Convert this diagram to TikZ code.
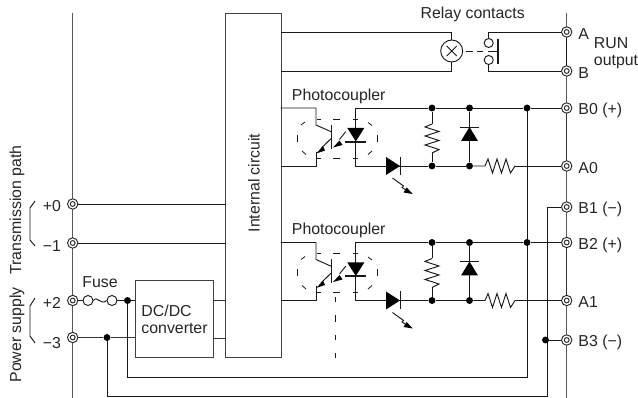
\documentclass[tikz,border=0pt]{standalone}
\usepackage{fontspec}
\setmainfont{Liberation Sans}
\newcommand{\term}[3]{\node[termo] (#1) at (#2,#3) {}; \node[termi] at (#1) {};}
\newcommand{\zigv}[3]{% x, y0, y1 vertical resistor
  \draw (#1,#2) -- (#1-7,#2+3) -- (#1+7,#2+7.5) -- (#1-7,#2+12) -- (#1+7,#2+16.5) -- (#1-7,#2+21) -- (#1+7,#2+25.5) -- (#1,#3);}
\newcommand{\coupler}[4]{% suffix, yshift, power terminal, input terminal
  \begin{scope}[shift={(0,#2)}]
    \coordinate (pa#1) at (280.5,108);
    \coordinate (pb#1) at (280.5,166);
    \coordinate (c#1) at (316,108);
    \coordinate (e#1) at (316,166);
    \coordinate (l#1) at (355.7,108);
    \coordinate (m#1) at (355.7,166);
    \node[jdot] (j1#1) at (432,108) {};
    \node[jdot] (j2#1) at (469.5,108) {};
    \node[jdot] (j3#1) at (432,166) {};
    \node[jdot] (j4#1) at (469.5,166) {};
    \node[jdot] (j5#1) at (527,108) {};
    \draw (pa#1) -- (c#1) -- (316,125) -- (331.7,132);
    \draw (331.7,138) -- (321,148.5);
    \draw (316,152) -- (e#1) -- (pb#1);
    \draw[line width=1.1pt] (331.7,125) -- (331.7,149);
    \fill (316.4,153.4) -- (323,146) -- (325,150.5) -- cycle;
    \draw (345.7,131.7) -- (339.5,139.5);
    \fill (333,147.5) -- (339.5,140.5) -- (342.5,145) -- cycle;
    \draw[dsh] (317,119) -- (321,119) (333,119) -- (340,119) (353,119) -- (358,119);
    \draw[dsh] (317,158) -- (321,158) (333,158) -- (340,158) (353,158) -- (358,158);
    \draw[dsh] (297,135) -- (297,142) (377,135) -- (377,142);
    \draw[dsh] (301,125) -- (305,122) (302,151) -- (306,154.5) (368,122.5) -- (372,125.5) (368,154.5) -- (372,151);
    \draw (l#1) -- (m#1) -- (j3#1) -- (j4#1);
    \fill (347.3,128) -- (364.3,128) -- (355.8,141.5) -- cycle;
    \draw[line width=1.5pt] (345,141.8) -- (366,141.8);
    \fill (386,157) -- (386,175) -- (400,166) -- cycle;
    \draw (400,157) -- (400,175);
    \draw (392.5,178) -- (403.5,186) -- (402,187.5) -- (406,190);
    \fill (412.7,194) -- (406.7,187.5) -- (403.5,192.5) -- cycle;
    \draw (l#1) -- (j1#1) -- (j2#1) -- (j5#1);
    \zigv{432}{124}{153}
    \draw (j1#1) -- (432,124) (432,153) -- (j3#1);
    \draw (j2#1) -- (j4#1);
    \fill (461,141) -- (478,141) -- (469.5,127) -- cycle;
    \draw (460,127) -- (479,127);
    \draw (j4#1) -- (485,166) -- (488,159) -- (492.5,173) -- (497,159) -- (501.5,173) -- (506,159) -- (510.5,173) -- (515,166);
    \draw (515,166) -- (#4);
    \draw (j5#1) -- (#3);
    \node[lbl,anchor=west] (pc#1) at (291.5,96) {Photocoupler};
  \end{scope}}
\tikzset{
  lbl/.style={inner sep=0pt,font=\fontsize{11.9}{13}\selectfont,text=black!85},
  termo/.style={circle,draw=black!85,fill=white,inner sep=0pt,minimum size=7.8pt,line width=0.7pt},
  termi/.style={circle,draw=black!85,fill=white,inner sep=0pt,minimum size=3.6pt,line width=0.7pt},
  jdot/.style={circle,fill=black,inner sep=0pt,minimum size=5.2pt},
  dsh/.style={line width=0.6pt},
  railstyle/.style={draw=black!65,line width=0.8pt}
}
\begin{document}
\begin{tikzpicture}[x=0.75pt,y=-0.75pt,line width=0.7pt,draw=black!90]
\useasboundingbox (0,0) rectangle (638,398);
\fill[white] (0,0) rectangle (638,398);
% rails
\coordinate (lt) at (72.7,13); \coordinate (lb) at (72.7,398);
\coordinate (rt) at (566.7,13); \coordinate (rb) at (566.7,398);
\draw[railstyle] (lt) -- (lb);
\draw[railstyle] (rt) -- (rb);
\draw[line width=1pt] (566.7,32) -- (566.7,71);
\draw[line width=0.9pt,black!80] (566.7,108) -- (566.7,166) (566.7,243) -- (566.7,300);
% internal circuit
\node[draw=black!75,line width=0.75pt,minimum width=41.6pt,minimum height=258pt,inner sep=0pt,anchor=north west] (ic) at (225.2,13) {};
\node[lbl,rotate=90] (ict) at (254,183) {Internal circuit};
% dcdc
\node[draw=black!75,line width=0.75pt,minimum width=58.5pt,minimum height=57.75pt,inner sep=0pt,anchor=north west] (dc) at (135,280) {};
\node[lbl,anchor=west] (dct1) at (141,311) {DC/DC};
\node[lbl,anchor=west] (dct2) at (141,328) {converter};
% terminals
\coordinate (icp0) at (225.2,204);
\coordinate (icp1) at (225.2,243);
\coordinate (icp2) at (225.2,300);
\coordinate (icp3) at (225.2,338);
\coordinate (dcr2) at (213,300);
\coordinate (dcr3) at (213,338);
\coordinate (dcl2) at (135,300.5);
\coordinate (dcl3) at (135,337.5);
\term{Tp0}{72.7}{204}
\term{Tm1}{72.7}{243}
\term{Tp2}{72.7}{300.5}
\term{Tm3}{72.7}{337.5}
\term{TA}{566.7}{32}
\term{TB}{566.7}{71}
\term{TBz}{566.7}{108}
\term{TAz}{566.7}{166}
\term{TBo}{566.7}{207}
\term{TBt}{566.7}{242.5}
\term{TAo}{566.7}{300.5}
\term{TBh}{566.7}{340}
\draw (Tp0) -- (icp0);
\draw (Tm1) -- (icp1);
\draw[black!80] (dcr2) -- (icp2) (dcr3) -- (icp3);
% fuse
\node[circle,draw,fill=white,inner sep=0pt,minimum size=7.5pt] (f1) at (88,300.5) {};
\node[circle,draw,fill=white,inner sep=0pt,minimum size=7.5pt] (f2) at (112,300.5) {};
\node[jdot] (jf) at (127.5,300.5) {};
\draw (Tp2) -- (f1);
\draw (f1.east) .. controls (97,295) and (101,306) .. (f2.west);
\draw (f2) -- (jf) -- (dcl2);
\node[lbl] (fuse) at (100,282) {Fuse};
% negative
\node[jdot] (jn) at (107,337.5) {};
\draw[black!80] (Tm3) -- (jn) -- (dcl3);
% return lines
\coordinate (r1) at (127.5,377);
\coordinate (r2) at (527,377);
\coordinate (r3) at (107,396);
\coordinate (r4) at (547,396);
\coordinate (r5) at (547,207);
\draw (jf) -- (r1) -- (r2) -- (527,108);
\draw (jn) -- (r3) -- (r4) -- (r5) -- (TBo);
\node[jdot] (jb3) at (545.5,340) {};
\draw (jb3) -- (TBh);
% relay
\node[circle,draw,inner sep=0pt,minimum size=16.5pt,line width=0.7pt] (lamp) at (451.7,51) {};
\draw (446.7,46) -- (456.7,56) (446.7,56) -- (456.7,46);
\draw (280.5,32) -- (451.7,32) -- (lamp);
\draw (280.5,71) -- (451.7,71) -- (lamp);
\node[circle,draw,inner sep=0pt,minimum size=6.8pt] (ct1) at (488.7,43) {};
\node[circle,draw,inner sep=0pt,minimum size=6.8pt] (ct2) at (488.7,60) {};
\draw (ct1) -- (488.7,32) -- (TA);
\draw (ct2) -- (488.7,71) -- (TB);
\draw[line width=1.6pt] (498,39) -- (498,64);
\draw (466,51) -- (472.7,51) (477,51) -- (483,51) (488,51) -- (497,51);
\node[lbl] (rc) at (472.7,14) {Relay contacts};
% couplers
\coupler{a}{0}{TBz}{TAz}
\coupler{b}{134.5}{TBt}{TAo}
\draw[dsh] (335.3,297) -- (335.3,302) (335.3,315) -- (335.3,322) (335.3,335) -- (335.3,340) (335.3,353) -- (335.3,358);
% labels right
\node[lbl,anchor=west] (la) at (578,34) {A};
\node[lbl,anchor=west] (lb2) at (578,73) {B};
\node[lbl,anchor=west] (run) at (593.5,43.5) {RUN};
\node[lbl,anchor=west] (out) at (593.5,62) {output};
\node[lbl,anchor=west] (l0) at (578,110) {B0 (+)};
\node[lbl,anchor=west] (l1) at (578,168) {A0};
\node[lbl,anchor=west] (l2) at (578,209) {B1 (\char"2212)};
\node[lbl,anchor=west] (l3) at (578,245) {B2 (+)};
\node[lbl,anchor=west] (l4) at (578,302) {A1};
\node[lbl,anchor=west] (l5) at (578,342) {B3 (\char"2212)};
% labels left
\node[lbl] (n0) at (52,206) {+0};
\node[lbl] (n1) at (52,246.5) {\char"2212 1};
\node[lbl] (n2) at (52,303) {+2};
\node[lbl] (n3) at (52,343) {\char"2212 3};
\draw (35,201) -- (30,208) -- (30,240) -- (35,246);
\draw (35,298) -- (30,306) -- (30,336) -- (35,343);
\node[lbl,rotate=90,anchor=west] (tp) at (17,275) {Transmission path};
\node[lbl,rotate=90,anchor=west] (ps) at (17,383) {Power supply};
\end{tikzpicture}
\end{document}
